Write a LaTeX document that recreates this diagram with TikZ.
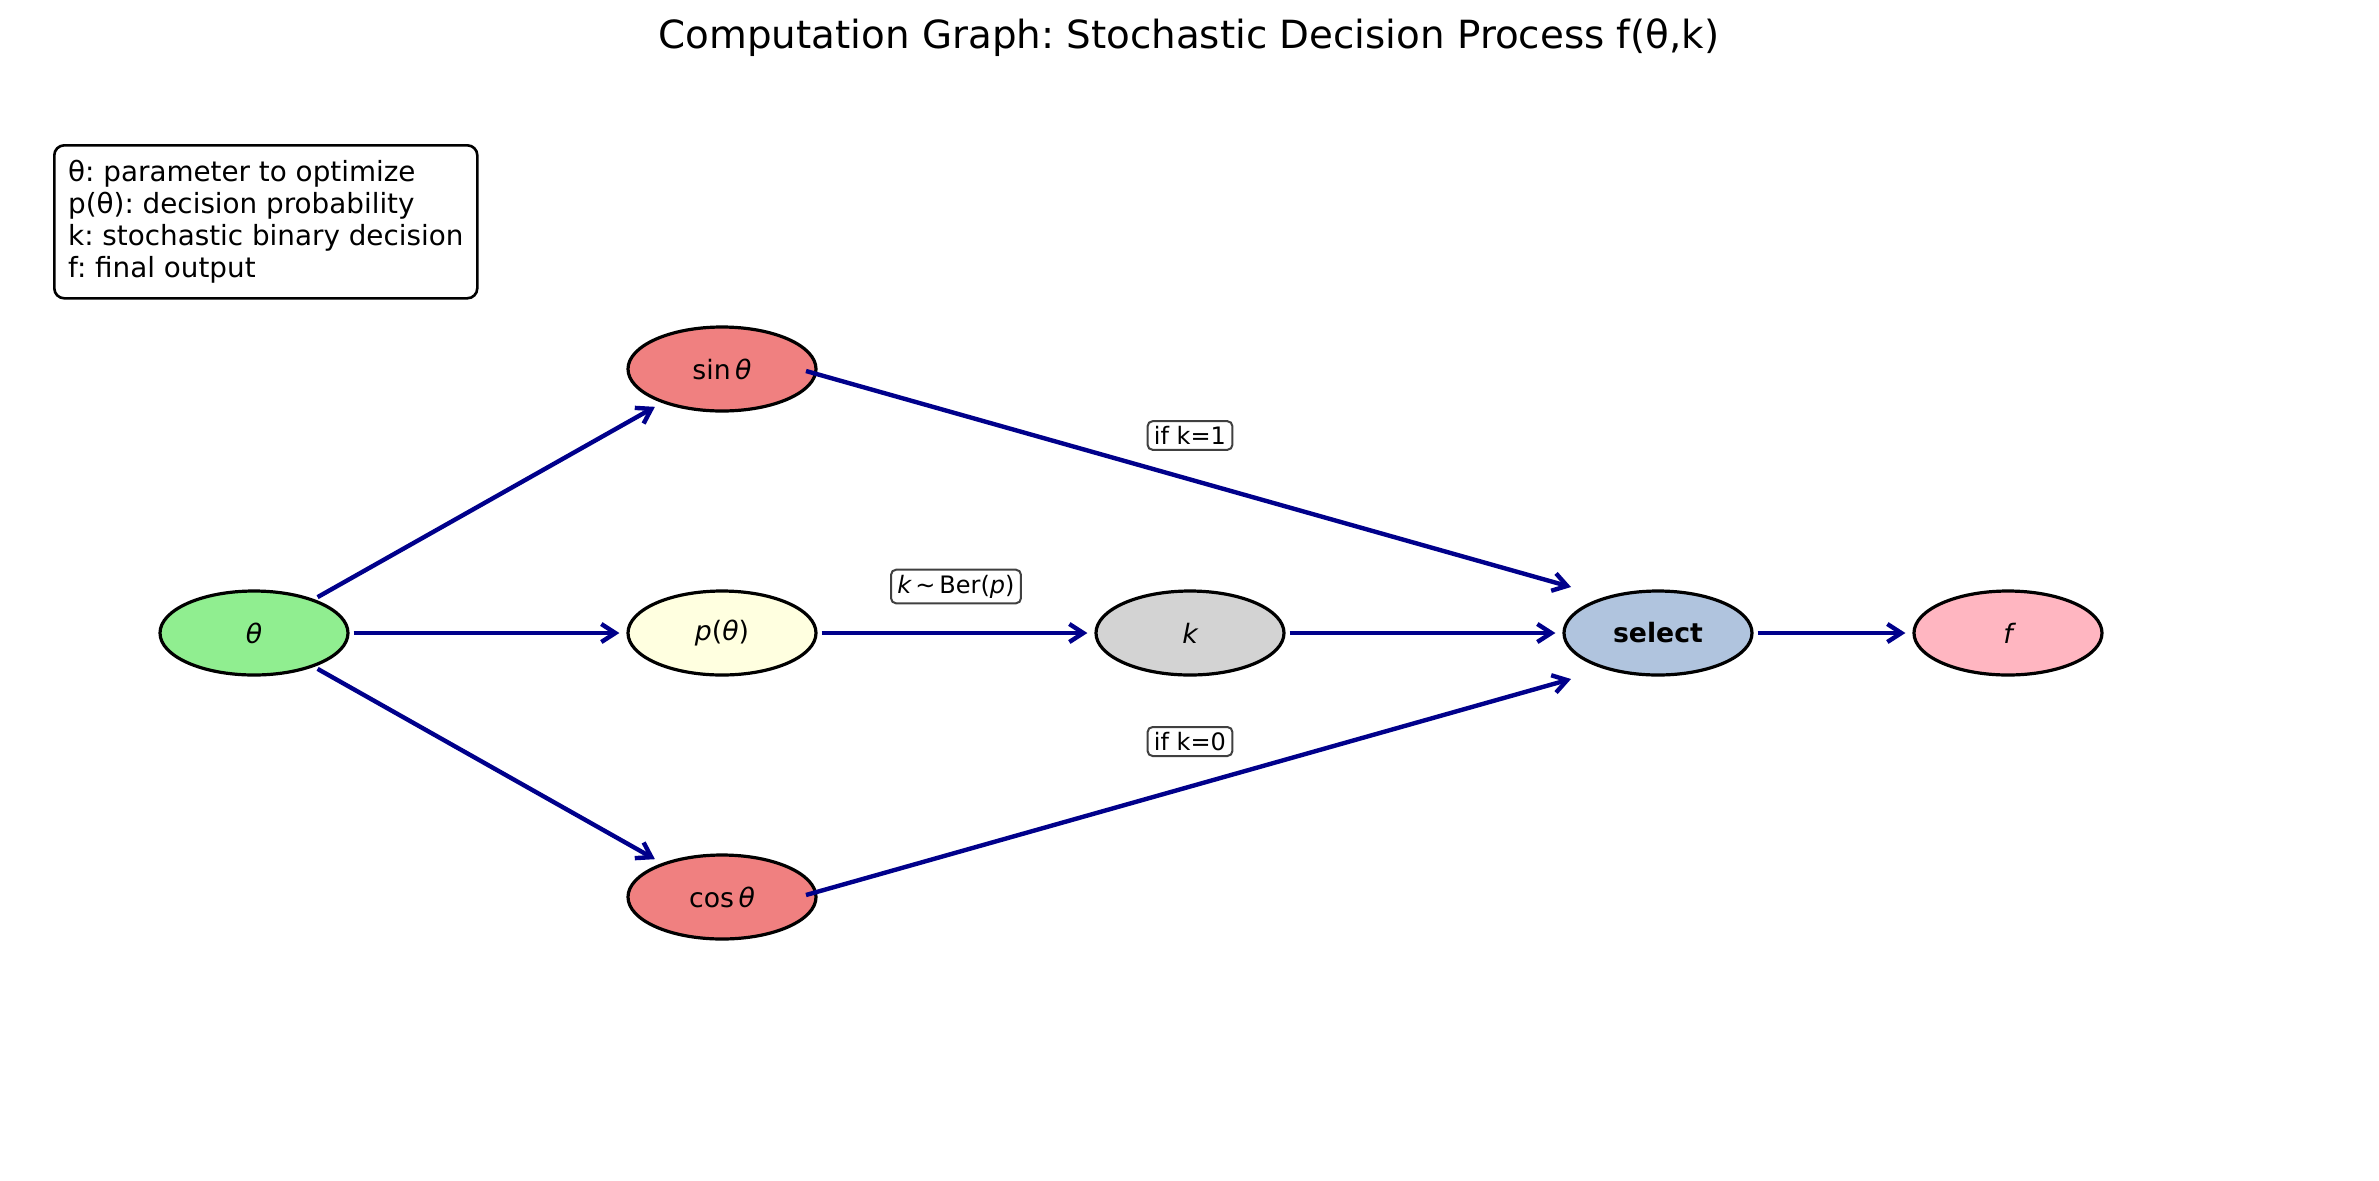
\documentclass[tikz,border=0pt]{standalone}
\usepackage{fontspec}
\setmainfont{DejaVu Sans}
\usetikzlibrary{arrows.meta,shapes.geometric}
\definecolor{arrblue}{HTML}{00008B}
\definecolor{cgreen}{HTML}{90EE90}
\definecolor{ccoral}{HTML}{F08080}
\definecolor{cyellow}{HTML}{FFFFE0}
\definecolor{cgray}{HTML}{D3D3D3}
\definecolor{csteel}{HTML}{B0C4DE}
\definecolor{cpink}{HTML}{FFB6C1}
\begin{document}
\frenchspacing
\begin{tikzpicture}[x=0.5pt,y=-0.5pt,
  gnode/.style={ellipse, draw=black, line width=1.6pt, minimum width=94pt, minimum height=42pt, inner sep=0pt, font=\fontsize{13.35}{16}\selectfont},
  elabel/.style={draw=black!75, line width=1pt, rounded corners=2.5pt, fill=white, inner xsep=3.2pt, inner ysep=2.6pt, font=\fontsize{12}{14}\selectfont},
  arr/.style={draw=arrblue, line width=2.2pt, -{Straight Barb[length=7pt,width=9pt,line width=2.2pt]}},
  hshort/.style={shorten <=2pt, shorten >=3.5pt},
  dshort/.style={shorten <=2pt, shorten >=4pt}
]
\useasboundingbox (0,0) rectangle (2379,1180);

\node[font=\fontsize{19.4}{23}\selectfont] (title) at (1189,38) {Computation Graph: Stochastic Decision Process f(θ,k)};

\node[draw=black, line width=1.3pt, rounded corners=5pt, anchor=north west, align=left,
  inner sep=0pt, minimum height=76.5pt, minimum width=211.5pt,
  font=\fontsize{13.9}{16}\selectfont] (legend) at (53,144)
  {θ: parameter to optimize\\p(θ): decision probability\\k: stochastic binary decision\\f: final output};

\node[gnode, fill=cgreen] (theta) at (254,633) {\itshape θ};
\node[gnode, fill=ccoral] (sin) at (722,369) {sin\,{\itshape θ}};
\node[gnode, fill=cyellow] (p) at (722,633) {{\itshape p}({\itshape θ})};
\node[gnode, fill=ccoral] (cos) at (722,897) {cos\,{\itshape θ}};
\node[gnode, fill=cgray] (k) at (1190,633) {\itshape k};
\node[gnode, fill=csteel] (select) at (1658,633) {\bfseries select};
\node[gnode, fill=cpink] (f) at (2008,633) {\itshape f};

\coordinate (sinout) at ([shift={(84,2)}]sin.center);
\coordinate (cosout) at ([shift={(84,-2)}]cos.center);
\coordinate (selin1) at ([shift={(-87,-46)}]select.center);
\coordinate (selin0) at ([shift={(-87,46)}]select.center);

\draw[arr, dshort] (theta) -- (sin);
\draw[arr, hshort] (theta) -- (p);
\draw[arr, dshort] (theta) -- (cos);
\draw[arr, hshort] (p) -- (k);
\draw[arr, hshort] (k) -- (select);
\draw[arr, hshort] (select) -- (f);
\draw[arr] (sinout) -- (selin1);
\draw[arr] (cosout) -- (selin0);

\node[elabel] (lab1) at (1190,435.5) {if k=1};
\node[elabel] (labber) at (956,586.5) {{\itshape k}\,∼\,Ber({\itshape p})};
\node[elabel] (lab0) at (1190,741.5) {if k=0};
\end{tikzpicture}
\end{document}
